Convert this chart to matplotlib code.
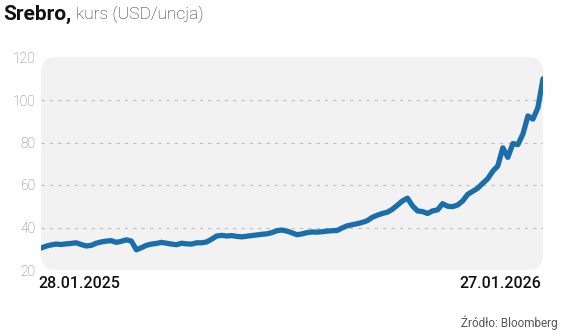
import numpy as np
import pandas as pd
import matplotlib
matplotlib.use("Agg")
from matplotlib import pyplot as plt
from matplotlib.patches import FancyBboxPatch
from matplotlib.transforms import IdentityTransform

plt.rcParams['font.family'] = ['Roboto', 'DejaVu Sans']

# silver price, USD/oz, sampled roughly every 3.65 days
start_date = '2025-01-28'
end_date = '2026-01-27'
prices = [
    30.3, 31.2, 31.8, 32.2, 32.0, 32.3, 32.5, 32.8, 32.0, 31.3,
    31.6, 32.6, 33.2, 33.6, 33.8, 33.0, 33.5, 34.2, 33.6, 29.5,
    30.5, 31.6, 32.2, 32.5, 33.0, 32.6, 32.2, 31.9, 32.6, 32.3,
    32.2, 32.8, 32.8, 33.2, 34.5, 36.0, 36.3, 36.0, 36.2, 35.8,
    35.6, 35.9, 36.2, 36.5, 36.8, 37.0, 37.6, 38.5, 38.8, 38.3,
    37.5, 36.6, 37.0, 37.6, 37.9, 37.8, 38.0, 38.3, 38.5, 38.6,
    39.8, 40.8, 41.3, 41.8, 42.4, 43.2, 44.8, 45.8, 46.6, 47.2,
    48.6, 50.5, 52.5, 53.8, 50.2, 47.8, 47.5, 46.6, 47.8, 48.3,
    51.2, 50.0, 49.8, 50.6, 52.5, 55.6, 57.0, 58.5, 60.8, 63.0,
    66.5, 69.0, 77.5, 73.0, 79.5, 79.0, 84.0, 92.5, 91.0, 96.5,
    110.0,
]
dates = pd.date_range(start_date, end_date, periods=len(prices))
yticks = [20, 40, 60, 80, 100, 120]
xlabels = ['28.01.2025', '27.01.2026']

W, H = 564, 334
fig = plt.figure(figsize=(W / 100, H / 100), dpi=100)
fig.patch.set_facecolor('white')

# rounded grey panel behind the plot (pixel coords)
panel = FancyBboxPatch((41, H - 270), 502, 213,
                       boxstyle='round,pad=0,rounding_size=15',
                       transform=IdentityTransform(), facecolor='#f2f2f2',
                       edgecolor='none', zorder=-5)
fig.patches.append(panel)

ax = fig.add_axes([41 / W, (H - 270) / H, 502 / W, 212.5 / H])
ax.patch.set_visible(False)
for s in ax.spines.values():
    s.set_visible(False)

ax.plot(dates, prices, color='#1a6fab', lw=3.8, solid_joinstyle='round',
        solid_capstyle='round', zorder=3)

ax.set_ylim(20, 120)
ax.set_xlim(dates[0], dates[-1])
ax.set_yticks(yticks)
ax.set_yticklabels([str(v) for v in yticks], fontsize=10, color='#777777',
                   fontweight='light')
ax.tick_params(axis='y', length=0, pad=4)
ax.set_xticks([])
for v in yticks[1:-1]:
    ax.axhline(v, color='#bdbdbd', lw=0.8, ls=(0, (3, 4.5)), zorder=1)

# date labels
fig.text(38 / W, 1 - 283 / H, xlabels[0], fontsize=11.5, fontweight='medium',
         color='#111111', ha='left', va='center')
fig.text(541 / W, 1 - 283 / H, xlabels[1], fontsize=11.5, fontweight='medium',
         color='#111111', ha='right', va='center')

# title
t1 = fig.text(3 / W, 1 - 14 / H, 'Srebro,', fontsize=15, fontweight='bold',
              color='#111111', ha='left', va='center')
fig.canvas.draw()
bb = t1.get_window_extent()
fig.text((bb.x1 + 5) / W, 1 - 14 / H, 'kurs (USD/uncja)', fontsize=12.5,
         fontweight='light', color='#2a2a2a', ha='left', va='center')

fig.text(558 / W, 1 - 323 / H, 'Źródło: Bloomberg', fontsize=8.5,
         color='#555555', ha='right', va='center')

fig.savefig('out.png', dpi=100)
